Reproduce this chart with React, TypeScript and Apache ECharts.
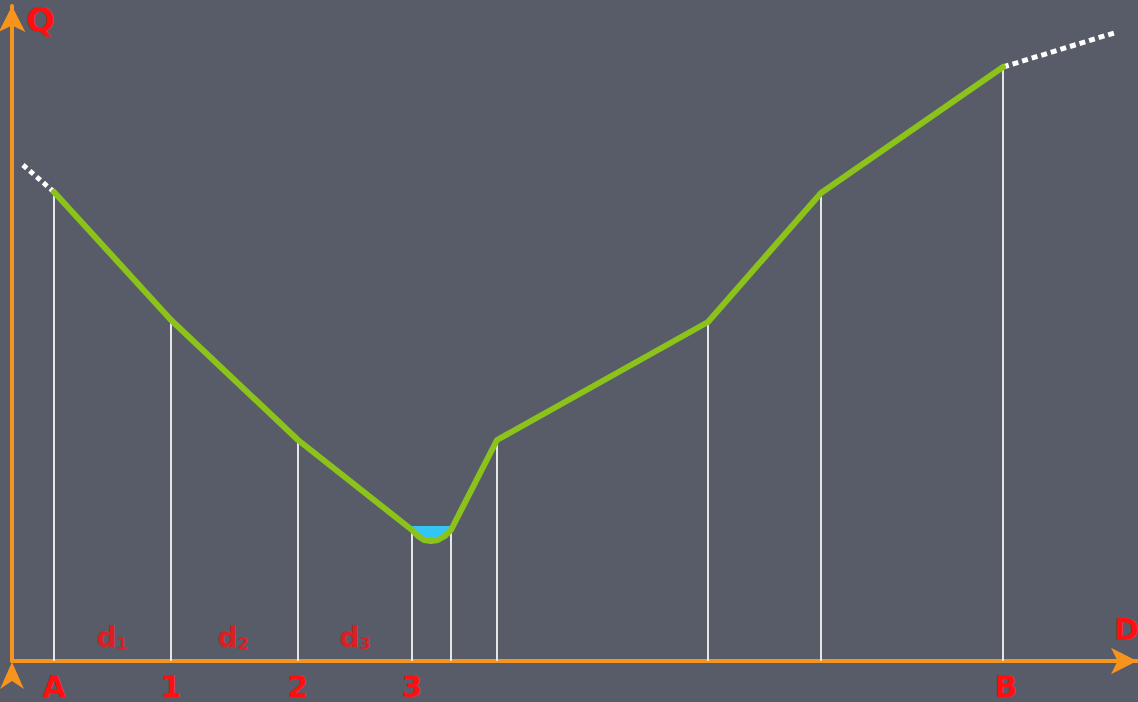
import React, { useEffect, useRef } from "react";
import * as echarts from "echarts";

// Profile (distance D, height Q) in chart units
const profileX = [42, 159, 286, 400, 406, 412, 419, 426, 433, 439, 485, 696, 809, 991];
const profileY = [469, 341, 221, 131, 125, 121, 120, 121, 125, 131, 221, 339, 468, 594];
// Dotted extensions
const leftExtX = [11, 42];
const leftExtY = [496, 469];
const rightExtX = [991, 1102];
const rightExtY = [594, 628];
// Vertical reference lines
const vertX = [42, 159, 286, 400, 439, 485, 696, 809, 991];
const vertY = [469, 341, 221, 131, 131, 221, 339, 468, 594];
// Water in the channel
const waterX = [399, 406, 412, 419, 426, 433, 440];
const waterY = [135, 127, 123, 122, 123, 127, 135];
const waterTop = 135;
// Axis tick labels
const tickValues = [42, 159, 286, 400, 994];
const tickNames = ["A", "1", "2", "3", "B"];
// Segment labels
const segNames = ["1", "2", "3"];
const segX = [100, 221, 343];
const segY = [24, 24, 24];

export default function App() {
  const ref = useRef<HTMLDivElement>(null);
  useEffect(() => {
    const chart = echarts.init(ref.current!, undefined, { renderer: "svg" });
    const orange = "#f7941d";
    const red = "#ff1010";
    const font = "DejaVu Sans";
    chart.setOption({
      animation: false,
      backgroundColor: "#585b68",
      grid: { left: 12, right: 1, top: 6, bottom: 41 },
      xAxis: {
        type: "value",
        min: 0,
        max: 1125,
        splitLine: { show: false },
        axisTick: { show: false },
        axisLine: {
          onZero: false,
          symbol: ["none", "arrow"],
          symbolSize: [20, 26],
          lineStyle: { color: orange, width: 4 },
        },
        axisLabel: {
          customValues: tickValues,
          formatter: (v: number) => tickNames[tickValues.indexOf(v)] ?? "",
          color: red,
          fontSize: 30,
          fontWeight: "bold",
          fontFamily: font,
          margin: 10,
          showMinLabel: true,
          showMaxLabel: true,
        },
      },
      yAxis: {
        type: "value",
        min: 0,
        max: 655,
        splitLine: { show: false },
        axisTick: { show: false },
        axisLabel: { show: false },
        axisLine: {
          onZero: false,
          symbol: ["none", "arrow"],
          symbolSize: [20, 26],
          lineStyle: { color: orange, width: 4 },
        },
      },
      graphic: [
        {
          type: "polygon",
          shape: { points: [[12, 662], [24, 689], [12, 681], [0, 689]] },
          style: { fill: orange },
        },
        {
          type: "text",
          left: 26,
          top: 3,
          style: { text: "Q", fill: red, font: `bold 34px '${font}'` },
        },
        {
          type: "text",
          left: 1114,
          top: 614,
          style: { text: "D", fill: red, font: `bold 30px '${font}'` },
        },
      ],
      series: [
        {
          type: "custom",
          coordinateSystem: "cartesian2d",
          data: vertX.map((x, i) => [x, vertY[i]]),
          renderItem: (params: any, api: any) => {
            const p0 = api.coord([api.value(0), 0]);
            const p1 = api.coord([api.value(0), api.value(1)]);
            return {
              type: "line",
              shape: { x1: p0[0], y1: p0[1], x2: p1[0], y2: p1[1] },
              style: { stroke: "#e6e6e6", lineWidth: 2 },
            };
          },
          z: 1,
        },
        {
          type: "custom",
          coordinateSystem: "cartesian2d",
          data: [0],
          renderItem: (params: any, api: any) => {
            const pts = waterX.map((x, i) => api.coord([x, waterY[i]]));
            pts.push(api.coord([waterX[waterX.length - 1], waterTop]));
            pts.push(api.coord([waterX[0], waterTop]));
            return {
              type: "polygon",
              shape: { points: pts },
              style: { fill: "#33c6f4" },
            };
          },
          z: 2,
        },
        {
          type: "line",
          data: leftExtX.map((x, i) => [x, leftExtY[i]]),
          symbol: "none",
          lineStyle: { color: "#ffffff", width: 5, type: [5, 4] },
          z: 3,
        },
        {
          type: "line",
          data: rightExtX.map((x, i) => [x, rightExtY[i]]),
          symbol: "none",
          lineStyle: { color: "#ffffff", width: 5, type: [6, 4] },
          z: 3,
        },
        {
          type: "line",
          data: profileX.map((x, i) => [x, profileY[i]]),
          symbol: "none",
          lineStyle: { color: "#8cc31a", width: 6, join: "round", cap: "round" },
          z: 4,
        },
        {
          type: "scatter",
          data: segX.map((x, i) => [x, segY[i]]),
          symbolSize: 0,
          label: {
            show: true,
            position: "inside",
            fontSize: 28,
            formatter: (p: any) => `{a|d}{b|${segNames[p.dataIndex]}}`,
            rich: {
              a: { color: red, fontSize: 28, fontWeight: "bold", fontFamily: font },
              b: { color: red, fontSize: 16, fontWeight: "bold", fontFamily: font, padding: [12, 0, 0, 0] },
            },
          },
          z: 5,
        },
      ],
    });
    return () => chart.dispose();
  }, []);
  return <div ref={ref} style={{ width: 1138, height: 702, position: "absolute", left: 0, top: 0 }} />;
}
